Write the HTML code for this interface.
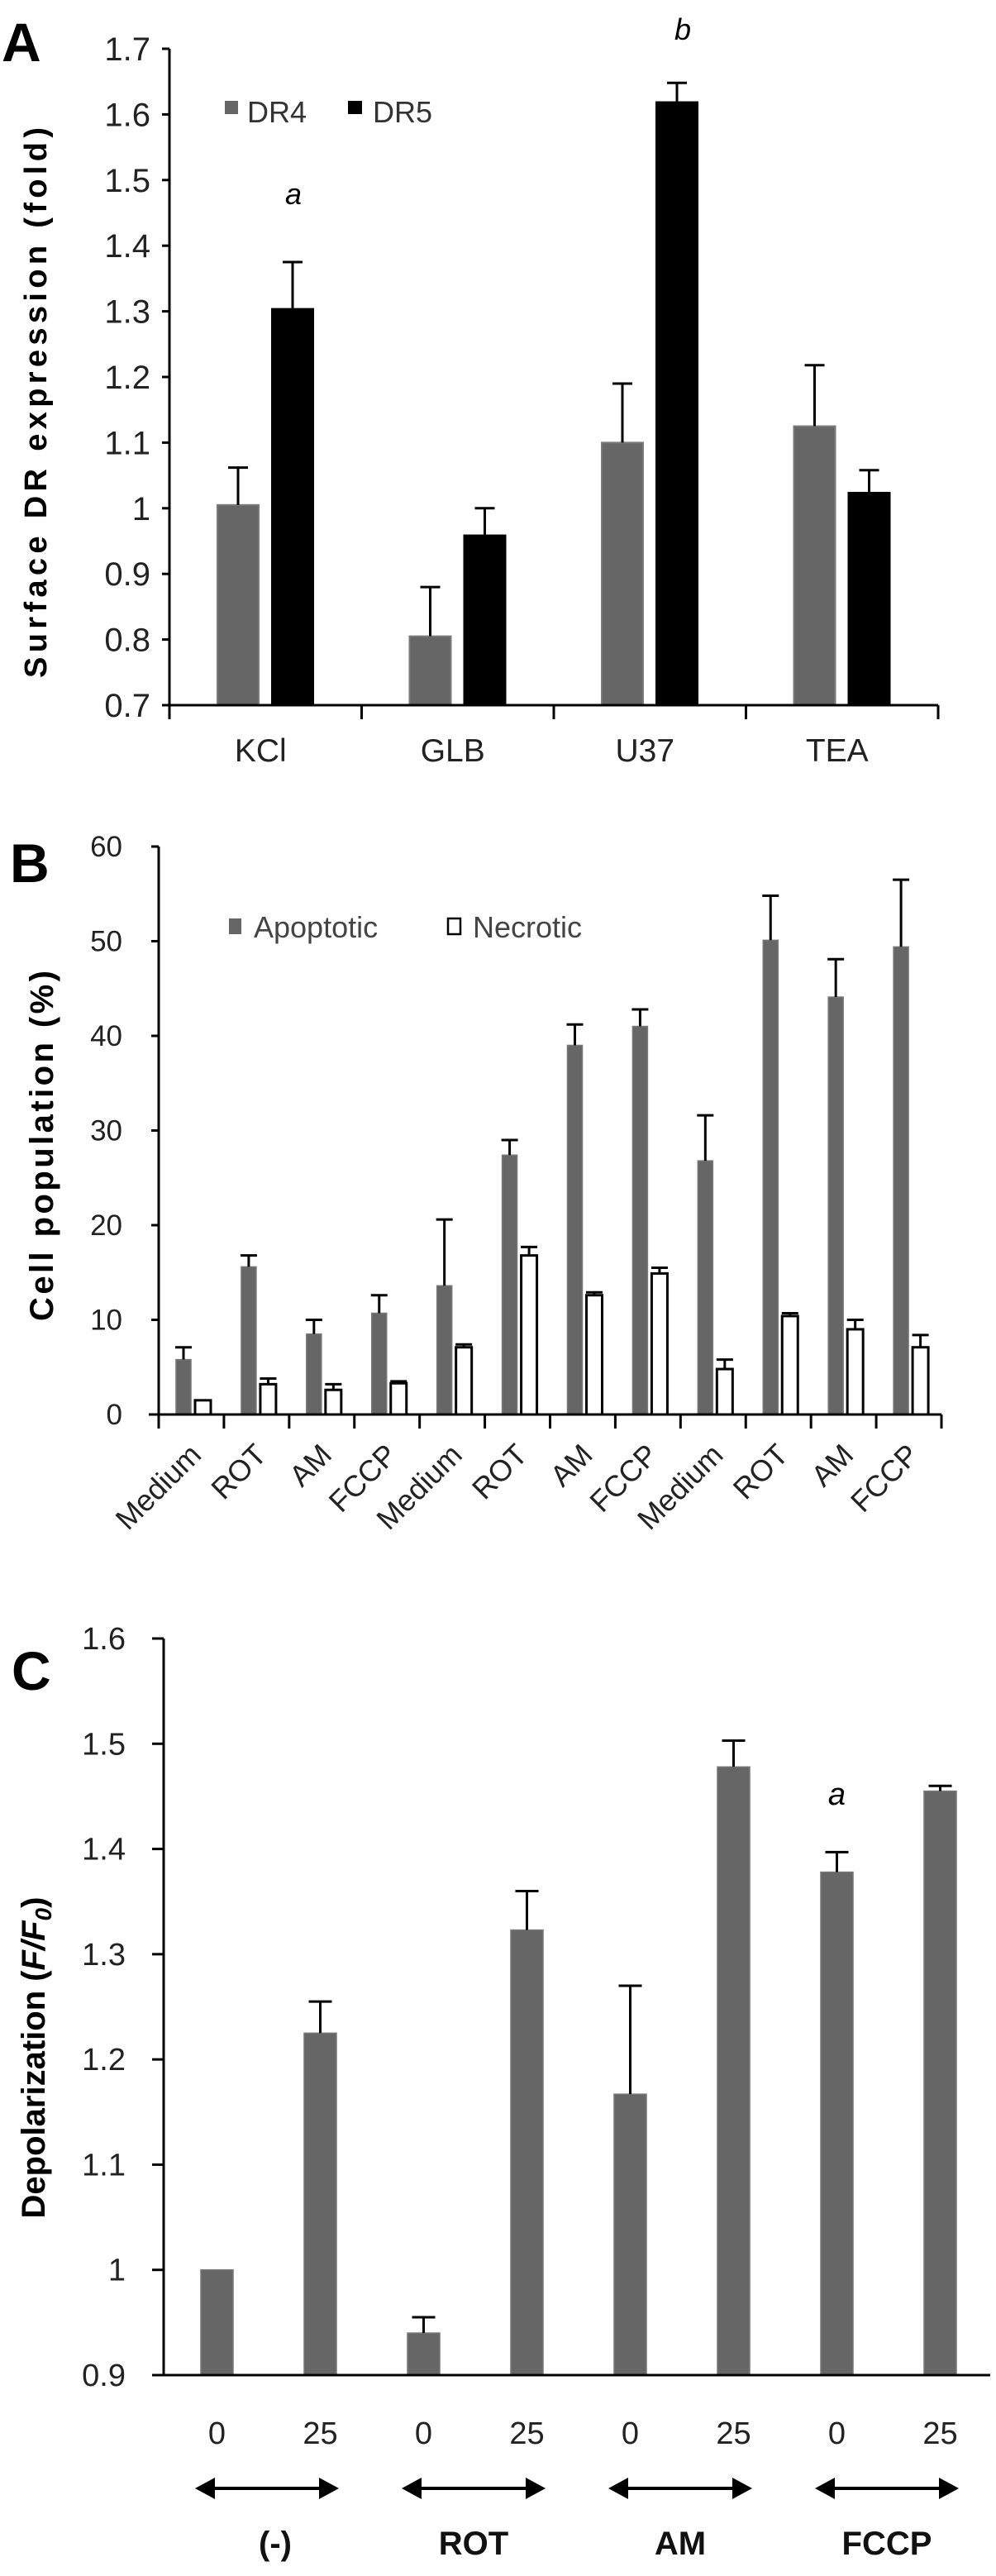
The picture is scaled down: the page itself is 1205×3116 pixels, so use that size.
<!DOCTYPE html>
<html><head><meta charset="utf-8">
<style>
html,body{margin:0;padding:0;background:#fff;}
svg{display:block;}
text{font-family:"Liberation Sans",sans-serif;}
</style></head>
<body>
<svg id="fig" width="1205" height="3116" viewBox="0 0 1205 3116" xmlns="http://www.w3.org/2000/svg"></svg>
<script>
// ---------- Panel A data ----------
const aCategories = ["KCl","GLB","U37","TEA"];
const aDR4 = [1.005, 0.805, 1.10, 1.125];
const aDR4Err = [0.057, 0.075, 0.09, 0.093];
const aDR5 = [1.305, 0.96, 1.62, 1.025];
const aDR5Err = [0.07, 0.04, 0.028, 0.033];
const aTicks = ["0.7","0.8","0.9","1","1.1","1.2","1.3","1.4","1.5","1.6","1.7"];
// ---------- Panel B data ----------
const bCategories = ["Medium","ROT","AM","FCCP","Medium","ROT","AM","FCCP","Medium","ROT","AM","FCCP"];
const bApoptotic = [5.8, 15.6, 8.5, 10.7, 13.6, 27.4, 39.0, 41.0, 26.8, 50.1, 44.1, 49.4];
const bApoptoticErr = [1.3, 1.2, 1.5, 1.9, 7.0, 1.6, 2.2, 1.8, 4.8, 4.7, 4.0, 7.1];
const bNecrotic = [1.5, 3.2, 2.6, 3.3, 7.1, 16.8, 12.6, 14.9, 4.8, 10.4, 9.0, 7.1];
const bNecroticErr = [0.0, 0.6, 0.6, 0.2, 0.3, 0.9, 0.3, 0.6, 1.0, 0.3, 1.0, 1.3];
const bTicks = ["0","10","20","30","40","50","60"];
// ---------- Panel C data ----------
const cDoses = ["0","25","0","25","0","25","0","25"];
const cValues = [1.0, 1.225, 0.94, 1.323, 1.167, 1.478, 1.378, 1.455];
const cErr = [0.0, 0.03, 0.015, 0.037, 0.103, 0.025, 0.019, 0.005];
const cGroups = ["(-)","ROT","AM","FCCP"];
const cTicks = ["0.9","1","1.1","1.2","1.3","1.4","1.5","1.6"];

const svg = document.getElementById('fig');
const NS = "http://www.w3.org/2000/svg";
function mk(tag, attrs, parent){
  const e = document.createElementNS(NS, tag);
  for (const k in attrs) e.setAttribute(k, attrs[k]);
  (parent||svg).appendChild(e);
  return e;
}
function txt(s, attrs, parent){ const t = mk('text', attrs, parent); t.textContent = s; return t; }
function errBar(g, x, yTop, yBase, cap){
  mk('line',{x1:x,y1:yBase,x2:x,y2:yTop,stroke:'#000','stroke-width':3},g);
  mk('line',{x1:x-cap/2,y1:yTop,x2:x+cap/2,y2:yTop,stroke:'#000','stroke-width':3},g);
}

// ================= PANEL A =================
(function(){
  const g = mk('g',{});
  
  
  const X0=205, X1=1135, Ytop=59, Ybot=853, vmin=0.7, vmax=1.7;
  const y = v => Ybot - (v-vmin)/(vmax-vmin)*(Ybot-Ytop);
  const cw = (X1-X0)/aCategories.length;
  const xc = i => X0 + i*cw;
  const pl = txt('A',{x:2,y:74,'font-size':66,'font-weight':'bold'},g);
   
  aTicks.forEach(t=>{
    const v=parseFloat(t), yy=y(v);
    mk('line',{x1:X0-9,y1:yy,x2:X0,y2:yy,stroke:'#000','stroke-width':3},g);
    const tl = txt(t,{x:182,y:yy+14,'font-size':40,'text-anchor':'end',fill:'#222'},g);
     
  });
  aCategories.forEach((c,i)=>{
    const x4 = xc(i)+58, w=50;
    const b4 = mk('rect',{x:x4,y:y(aDR4[i]),width:w,height:Ybot-y(aDR4[i]),fill:'#666',stroke:'#7a7a7a','stroke-width':2},g);
     
    errBar(g, x4+w/2, y(aDR4[i]+aDR4Err[i]), y(aDR4[i]), 24);
    const x5 = xc(i)+123;
    const b5 = mk('rect',{x:x5,y:y(aDR5[i]),width:52,height:Ybot-y(aDR5[i]),fill:'#000'},g);
     
    errBar(g, x5+26, y(aDR5[i]+aDR5Err[i]), y(aDR5[i]), 24);
    const cl = txt(c,{x:xc(i)+cw/2-6,y:921,'font-size':39,'text-anchor':'middle',fill:'#222'},g);
     
  });
  mk('line',{x1:X0,y1:Ytop,x2:X0,y2:Ybot,stroke:'#000','stroke-width':3},g);
  mk('line',{x1:X0,y1:Ybot,x2:X1,y2:Ybot,stroke:'#000','stroke-width':3},g);
  for(let i=0;i<=aCategories.length;i++) mk('line',{x1:xc(i),y1:Ybot,x2:xc(i),y2:Ybot+17,stroke:'#000','stroke-width':3},g);
  const ya = txt('Surface DR expression (fold)',{x:0,y:0,'font-size':38,'font-weight':'bold','text-anchor':'middle',textLength:666,lengthAdjust:'spacing',transform:'translate(56,487) rotate(-90)'},g);
   
  const la = txt('a',{x:355,y:247,'font-size':36,'font-style':'italic','text-anchor':'middle'},g);
   
  const lb = txt('b',{x:826,y:48,'font-size':36,'font-style':'italic','text-anchor':'middle'},g);
   
  const l1 = mk('g',{},g);
   
  mk('rect',{x:272,y:122,width:16,height:16,fill:'#666'},l1);
  txt('DR4',{x:299,y:148,'font-size':36,fill:'#333'},l1);
  const l2 = mk('g',{},g);
   
  mk('rect',{x:421,y:122,width:17,height:16,fill:'#000'},l2);
  txt('DR5',{x:451,y:148,'font-size':36,fill:'#333'},l2);
})();

// ================= PANEL B =================
(function(){
  const g = mk('g',{});
  
  
  const X0=192, X1=1139, Ytop=1024, Ybot=1711, vmin=0, vmax=60;
  const y = v => Ybot - (v-vmin)/(vmax-vmin)*(Ybot-Ytop);
  const cw = (X1-X0)/bCategories.length;
  const xc = i => X0 + i*cw;
  const pl = txt('B',{x:12,y:1067,'font-size':66,'font-weight':'bold'},g);
   
  bTicks.forEach(t=>{
    const v=parseFloat(t), yy=y(v);
    mk('line',{x1:X0-9,y1:yy,x2:X0,y2:yy,stroke:'#000','stroke-width':3},g);
    const tl = txt(t,{x:148,y:yy+12,'font-size':35,'text-anchor':'end',fill:'#222'},g);
     
  });
  bCategories.forEach((c,i)=>{
    const xa = xc(i)+21, wa=18;
    const ba = mk('rect',{x:xa,y:y(bApoptotic[i]),width:wa,height:Ybot-y(bApoptotic[i]),fill:'#666',stroke:'#777','stroke-width':1.5},g);
     
    errBar(g, xa+wa/2, y(bApoptotic[i]+bApoptoticErr[i]), y(bApoptotic[i]), 20);
    const xn = xc(i)+44, wn=19;
    const bn = mk('rect',{x:xn,y:y(bNecrotic[i]),width:wn,height:Ybot-y(bNecrotic[i]),fill:'#fff',stroke:'#000','stroke-width':3},g);
     
    if (bNecroticErr[i]>0) errBar(g, xn+wn/2, y(bNecrotic[i]+bNecroticErr[i]), y(bNecrotic[i]), 20);
    const cl = txt(c,{x:0,y:0,'font-size':36,'text-anchor':'end',fill:'#222',transform:'translate('+(xc(i)+cw/2+14)+',1762) rotate(-45)'},g);
     
  });
  mk('line',{x1:X0,y1:Ytop,x2:X0,y2:Ybot,stroke:'#000','stroke-width':3},g);
  mk('line',{x1:X0-12,y1:Ybot,x2:X1,y2:Ybot,stroke:'#000','stroke-width':3},g);
  for(let i=0;i<=bCategories.length;i++) mk('line',{x1:xc(i),y1:Ybot,x2:xc(i),y2:Ybot+17,stroke:'#000','stroke-width':3},g);
  const yt = txt('Cell population (%)',{x:0,y:0,'font-size':40,'font-weight':'bold','text-anchor':'middle',textLength:424,lengthAdjust:'spacing',transform:'translate(64,1386) rotate(-90)'},g);
   
  const l1 = mk('g',{},g);
   
  mk('rect',{x:277,y:1111,width:15,height:19,fill:'#666'},l1);
  txt('Apoptotic',{x:307,y:1134,'font-size':36,fill:'#444'},l1);
  const l2 = mk('g',{},g);
   
  mk('rect',{x:542,y:1111,width:15,height:19,fill:'#fff',stroke:'#000','stroke-width':2.5},l2);
  txt('Necrotic',{x:572,y:1134,'font-size':36,fill:'#444'},l2);
})();

// ================= PANEL C =================
(function(){
  const g = mk('g',{});
  
  
  const X0=198, X1=1198, Ytop=1982, Ybot=2873, vmin=0.9, vmax=1.6;
  const y = v => Ybot - (v-vmin)/(vmax-vmin)*(Ybot-Ytop);
  const cw = (X1-X0)/cValues.length;
  const xc = i => X0 + i*cw + cw/2;
  const pl = txt('C',{x:14,y:2044,'font-size':66,'font-weight':'bold'},g);
   
  cTicks.forEach(t=>{
    const v=parseFloat(t), yy=y(v);
    mk('line',{x1:X0-14,y1:yy,x2:X0,y2:yy,stroke:'#000','stroke-width':3},g);
    const tl = txt(t,{x:152,y:yy+13,'font-size':38,'text-anchor':'end',fill:'#222'},g);
     
  });
  cValues.forEach((v,i)=>{
    const w=39, x=xc(i)-w/2+2;
    const b = mk('rect',{x:x,y:y(v),width:w,height:Ybot-y(v),fill:'#666',stroke:'#777','stroke-width':1.5},g);
     
    if (cErr[i]>0) errBar(g, x+w/2, y(v+cErr[i]), y(v), 28);
    const dl = txt(cDoses[i],{x:x+w/2,y:2956,'font-size':38,'text-anchor':'middle',fill:'#222'},g);
     
  });
  mk('line',{x1:X0,y1:Ytop,x2:X0,y2:Ybot,stroke:'#000','stroke-width':3},g);
  mk('line',{x1:X0-14,y1:Ybot,x2:X1,y2:Ybot,stroke:'#000','stroke-width':3},g);
  cGroups.forEach((c,k)=>{
    const ag = mk('g',{},g);
     
    const xa = (xc(2*k)+xc(2*k+1))/2 - 87, xb = xa + 174, ya = 3010;
    mk('line',{x1:xa+14,y1:ya,x2:xb-14,y2:ya,stroke:'#000','stroke-width':4},ag);
    mk('polygon',{points:(xa)+','+ya+' '+(xa+24)+','+(ya-13)+' '+(xa+24)+','+(ya+13),fill:'#000'},ag);
    mk('polygon',{points:(xb)+','+ya+' '+(xb-24)+','+(ya-13)+' '+(xb-24)+','+(ya+13),fill:'#000'},ag);
    const gl = txt(c,{x:(xa+xb)/2+(k===0?10:0),y:3090,'font-size':40,'font-weight':'bold','text-anchor':'middle',fill:'#111'},g);
     
  });
  const yt = mk('text',{x:0,y:0,'font-size':40,'font-weight':'bold','text-anchor':'middle',transform:'translate(54,2489) rotate(-90)'},g);
   
  const t1 = mk('tspan',{},yt); t1.textContent='Depolarization (';
  const t2 = mk('tspan',{'font-style':'italic'},yt); t2.textContent='F/F';
  const t3 = mk('tspan',{'font-style':'italic','font-size':28,dy:8},yt); t3.textContent='0';
  const t4 = mk('tspan',{dy:-8},yt); t4.textContent=')';
  const sa = txt('a',{x:xc(6)+2,y:2183,'font-size':38,'font-style':'italic','text-anchor':'middle'},g);
   
})();
</script>
</body></html>
